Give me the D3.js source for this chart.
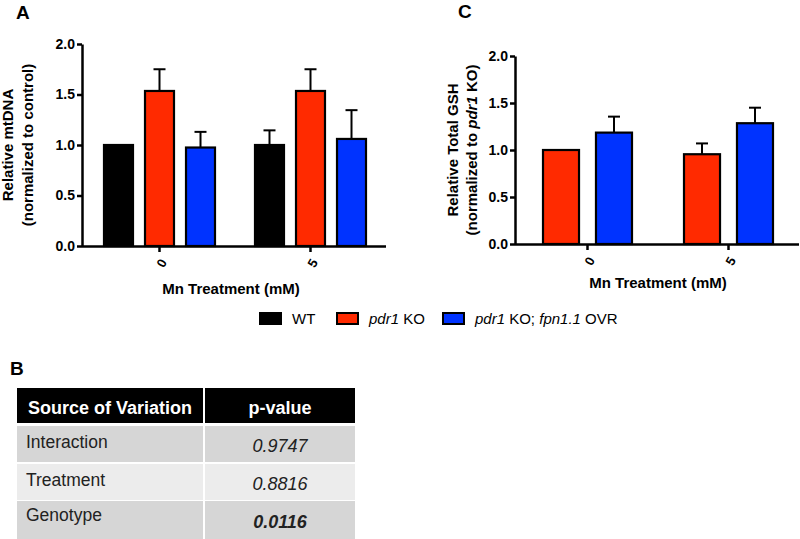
<!DOCTYPE html>
<html><head><meta charset="utf-8">
<script src="https://cdn.jsdelivr.net/npm/d3@7"></script>
<style>body{margin:0;background:#fff}svg{display:block;font-family:"Liberation Sans",Arial,sans-serif}</style>
</head><body><svg id="c" width="800" height="539"></svg>
<script>
const treatments = ["0","5"];
const genotypesA = ["WT","pdr1 KO","pdr1 KO; fpn1.1 OVR"];
const mtDNAmean = [[1.0,1.535,0.975],[1.0,1.535,1.06]];
const mtDNAerr  = [[0,0.215,0.155],[0.145,0.215,0.285]];
const genotypesC = ["pdr1 KO","pdr1 KO; fpn1.1 OVR"];
const gshMean = [[1.0,1.185],[0.955,1.285]];
const gshErr  = [[0,0.17],[0.115,0.165]];
const yTicks = [0,0.5,1.0,1.5,2.0];
const tableSources = ["Interaction","Treatment","Genotype"];
const tablePvals = ["0.9747","0.8816","0.0116"];

const FF = "Liberation Sans, Arial, sans-serif";
const colors = {"WT":"#000000","pdr1 KO":"#ff2a00","pdr1 KO; fpn1.1 OVR":"#0033ff"};
const svg = d3.select("#c");

function panel(opt){
  const g = svg.append("g");
  const y = d3.scaleLinear().domain([0,2]).range([opt.y0,opt.y1]);
  const x = d3.scaleBand().domain(treatments).range([opt.xs+2,opt.xe]).padding(0);
  const xi = d3.scaleBand().domain(opt.genos).range([-opt.half,opt.half]).paddingInner(opt.pi);
  treatments.forEach((t,ti)=>{
    const cx = x(t)+x.bandwidth()/2;
    opt.genos.forEach((gn,gi)=>{
      const v = opt.mean[ti][gi], e = opt.err[ti][gi];
      const bx = cx+xi(gn), mx = bx+xi.bandwidth()/2;
      if(e>0){
        g.append("line").attr("x1",mx).attr("x2",mx)
          .attr("y1",y(v)).attr("y2",y(v+e)).attr("stroke","#000").attr("stroke-width",2);
        g.append("line").attr("x1",mx-6).attr("x2",mx+6)
          .attr("y1",y(v+e)).attr("y2",y(v+e)).attr("stroke","#000").attr("stroke-width",2);
      }
      g.append("rect").attr("x",bx).attr("y",y(v)).attr("width",xi.bandwidth())
        .attr("height",y(0)-y(v)).attr("fill",colors[gn]).attr("stroke","#000").attr("stroke-width",2.2);
    });
  });
  const ya = g.append("g").attr("transform",`translate(${opt.xs},0)`)
    .call(d3.axisLeft(y).tickValues(yTicks).tickFormat(d3.format(".1f")).tickSize(5).tickSizeOuter(0));
  ya.select(".domain").attr("stroke-width",2.5);
  ya.selectAll(".tick line").attr("stroke-width",2.5);
  ya.selectAll("text").attr("font-size",14).attr("font-weight","bold").attr("fill","#000")
    .attr("font-family",FF).attr("x",-7);
  const xa = g.append("g").attr("transform",`translate(0,${opt.y0})`)
    .call(d3.axisBottom(x).tickSize(6).tickSizeOuter(0));
  xa.select(".domain").attr("stroke-width",2.5).attr("d",`M${opt.xs},0.5H${opt.xe}`);
  xa.selectAll(".tick line").attr("stroke-width",2.5);
  xa.selectAll("text").attr("font-size",13).attr("font-weight","bold").attr("fill","#000")
    .attr("font-family",FF)
    .attr("text-anchor","end").attr("dy","0.35em")
    .attr("transform","translate(4,14) rotate(-60)").attr("x",0).attr("y",0);
  const ymid = (opt.y0+opt.y1)/2;
  const t1 = g.append("text").attr("transform",`translate(${opt.tx1},${ymid}) rotate(-90)`)
    .attr("text-anchor","middle").attr("font-size",15).attr("font-weight","bold");
  opt.ytitle1(t1);
  const t2 = g.append("text").attr("transform",`translate(${opt.tx2},${ymid}) rotate(-90)`)
    .attr("text-anchor","middle").attr("font-size",15).attr("font-weight","bold");
  opt.ytitle2(t2);
  g.append("text").attr("x",opt.xtx).attr("y",opt.xty).attr("text-anchor","middle")
    .attr("font-size",15).attr("font-weight","bold").text("Mn Treatment (mM)");
  g.append("text").attr("x",opt.lx).attr("y",opt.ly).attr("font-size",19).attr("font-weight","bold").text(opt.label);
}

panel({xs:82,xe:386,y0:246,y1:44,genos:genotypesA,mean:mtDNAmean,err:mtDNAerr,half:55.5,pi:0.293,
  tx1:13,tx2:33,xtx:231,xty:294,lx:16,ly:19,label:"A",
  ytitle1:t=>t.text("Relative mtDNA"),
  ytitle2:t=>t.text("(normalized to control)")});
panel({xs:515,xe:799,y0:244,y1:56,genos:genotypesC,mean:gshMean,err:gshErr,half:44.5,pi:0.32,
  tx1:458,tx2:477,xtx:658,xty:288,lx:458,ly:18,label:"C",
  ytitle1:t=>t.text("Relative Total GSH"),
  ytitle2:t=>{t.append("tspan").text("(normalized to ");t.append("tspan").attr("font-style","italic").text("pdr1");t.append("tspan").text(" KO)");}});

// legend
const legend = svg.append("g").attr("font-size",15);
const legendX = [260,337,443];
genotypesA.forEach((gn,i)=>{
  legend.append("rect").attr("x",legendX[i]).attr("y",313).attr("width",21).attr("height",11)
    .attr("fill",colors[gn]).attr("stroke","#000").attr("stroke-width",2);
  const t = legend.append("text").attr("x",legendX[i]+32).attr("y",324);
  if(i===0) t.text("WT");
  else if(i===1){t.append("tspan").attr("font-style","italic").text("pdr1");t.append("tspan").text(" KO");}
  else {t.append("tspan").attr("font-style","italic").text("pdr1");t.append("tspan").text(" KO; ");
        t.append("tspan").attr("font-style","italic").text("fpn1.1");t.append("tspan").text(" OVR");}
});

// table B
svg.append("text").attr("x",10).attr("y",375).attr("font-size",19).attr("font-weight","bold").text("B");
const tb = svg.append("g");
const colX = [17,205], colW=[186,150];
const rowY = [388,426,464,501], rowH=[35,36,36,38];
const rowFill = ["#000","#d6d6d6","#ececec","#d6d6d6"];
rowY.forEach((ry,ri)=>{
  colX.forEach((cx,ci)=>{
    tb.append("rect").attr("x",cx).attr("y",ry).attr("width",colW[ci]).attr("height",rowH[ri]).attr("fill",rowFill[ri]);
  });
});
tb.append("text").attr("x",28).attr("y",414).attr("fill","#fff").attr("font-size",18).attr("font-weight","bold").text("Source of Variation");
tb.append("text").attr("x",280).attr("y",414).attr("fill","#fff").attr("font-size",18).attr("font-weight","bold").attr("text-anchor","middle").text("p-value");
const labelBase = [448,486,521], valBase = [452,490,528];
tableSources.forEach((s,i)=>{
  tb.append("text").attr("x",26).attr("y",labelBase[i]).attr("font-size",17.5).attr("fill","#222").text(s);
  tb.append("text").attr("x",280).attr("y",valBase[i]).attr("font-size",18).attr("fill","#222")
    .attr("font-style","italic").attr("font-weight",i===2?"bold":"normal").attr("text-anchor","middle").text(tablePvals[i]);
});
</script></body></html>
